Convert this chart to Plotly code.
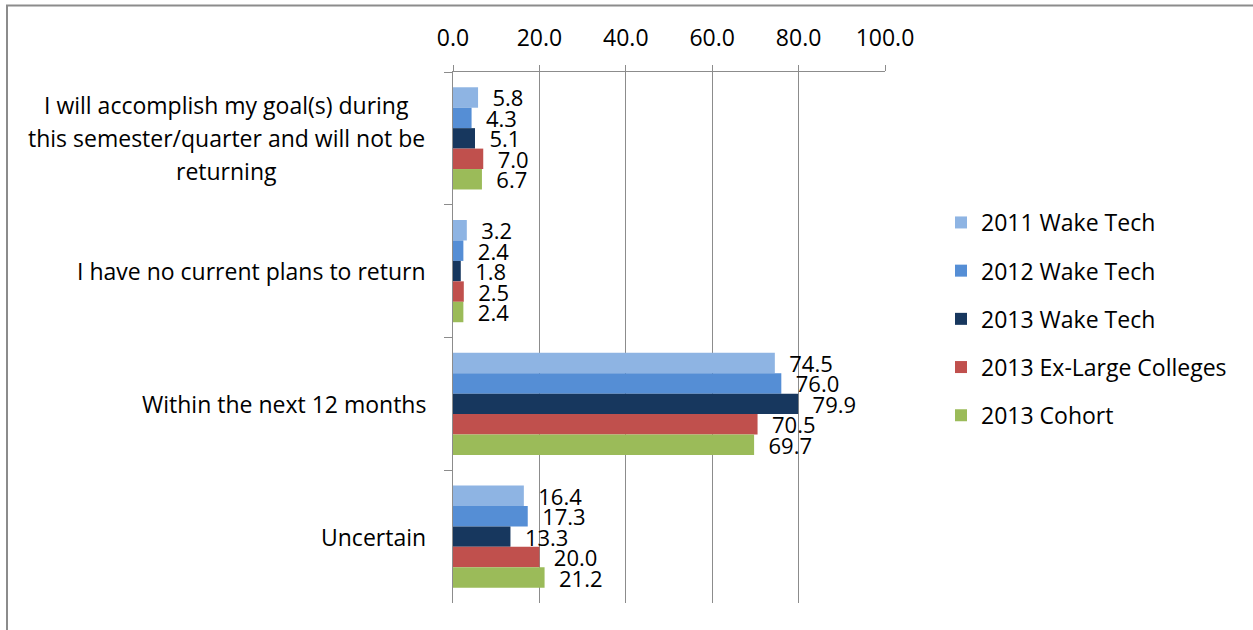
import plotly.graph_objects as go

categories = [
    "I will accomplish my goal(s) during<br>this semester/quarter and will not be<br>returning",
    "I have no current plans to return",
    "Within the next 12 months",
    "Uncertain",
]
series_names = ["2011 Wake Tech", "2012 Wake Tech", "2013 Wake Tech",
                "2013 Ex-Large Colleges", "2013 Cohort"]
v2011 = [5.8, 3.2, 74.5, 16.4]
v2012 = [4.3, 2.4, 76.0, 17.3]
v2013 = [5.1, 1.8, 79.9, 13.3]
vexl = [7.0, 2.5, 70.5, 20.0]
vcoh = [6.7, 2.4, 69.7, 21.2]
colors = ["#8EB4E3", "#558ED5", "#17375E", "#C0504D", "#9BBB59"]
x_ticks = [0, 20, 40, 60, 80, 100]

FONT = "Open Sans"
FS = 23
fig = go.Figure()
for i, (name, vals) in enumerate(zip(series_names, [v2011, v2012, v2013, vexl, vcoh])):
    fig.add_trace(go.Bar(
        y=categories, x=vals, name=name, orientation="h",
        marker=dict(color=colors[i], line=dict(width=0)),
        text=vals, texttemplate="\u00a0\u00a0%{x:.1f}", textposition="outside",
        constraintext="none", cliponaxis=False,
        textfont=dict(family=FONT, size=22, color="black"),
        legendgroup=str(i),
    ))

L, R, T, B = 453, 1253 - 885, 72, 630 - 603
W, H = 1253, 630
pw, ph = W - L - R, H - T - B


def px_x(p):
    return (p - L) / pw


def px_y(p):
    return (H - B - p) / ph


LINE_GAP = 33
for c in categories:
    lines = c.split("<br>")
    if len(lines) == 1:
        fig.add_annotation(xref="paper", yref="y", x=px_x(428), y=c, text=c,
                           xanchor="right", yanchor="middle",
                           showarrow=False, font=dict(family=FONT, size=FS, color="black"))
    else:
        n = len(lines)
        for k, ln in enumerate(lines):
            fig.add_annotation(xref="paper", yref="y", x=px_x(226), y=c, text=ln,
                               xanchor="center", yanchor="middle",
                               yshift=((n - 1) / 2 - k) * LINE_GAP,
                               showarrow=False, font=dict(family=FONT, size=FS, color="black"))

fig.add_shape(type="line", xref="paper", yref="paper",
              x0=px_x(6), x1=px_x(1253), y0=px_y(5.5), y1=px_y(5.5),
              line=dict(color="#8C8C8C", width=2))
fig.add_shape(type="line", xref="paper", yref="paper",
              x0=px_x(7), x1=px_x(7), y0=px_y(5.5), y1=px_y(631),
              line=dict(color="#8C8C8C", width=2))

fig.update_layout(
    width=W, height=H, margin=dict(l=L, r=R, t=T, b=B, autoexpand=False),
    barmode="group", bargap=0.23, bargroupgap=0,
    paper_bgcolor="white", plot_bgcolor="white",
    font=dict(family=FONT, size=FS, color="black"),
    showlegend=True,
    legend=dict(x=px_x(941), y=px_y(201), xanchor="left", yanchor="top",
                tracegroupgap=15.3, font=dict(family=FONT, size=FS, color="black"),
                bgcolor="rgba(0,0,0,0)"),
    xaxis=dict(side="top", range=[0, 100], tickvals=x_ticks, tickformat=".1f",
               showgrid=True, gridcolor="#8C8C8C", gridwidth=1,
               showline=True, linecolor="#8C8C8C", linewidth=1,
               ticks="outside", ticklen=6, tickcolor="#8C8C8C",
               ticklabelstandoff=10, zeroline=False, fixedrange=True),
    yaxis=dict(autorange="reversed", showticklabels=False,
               showline=True, linecolor="#8C8C8C", linewidth=1,
               ticks="outside", ticklen=8, tickcolor="#8C8C8C", tickson="boundaries",
               showgrid=False, fixedrange=True),
)
fig.write_html("out.html", config={"displayModeBar": False},
               post_script="document.body.style.margin='0';document.body.style.overflow='hidden';")
